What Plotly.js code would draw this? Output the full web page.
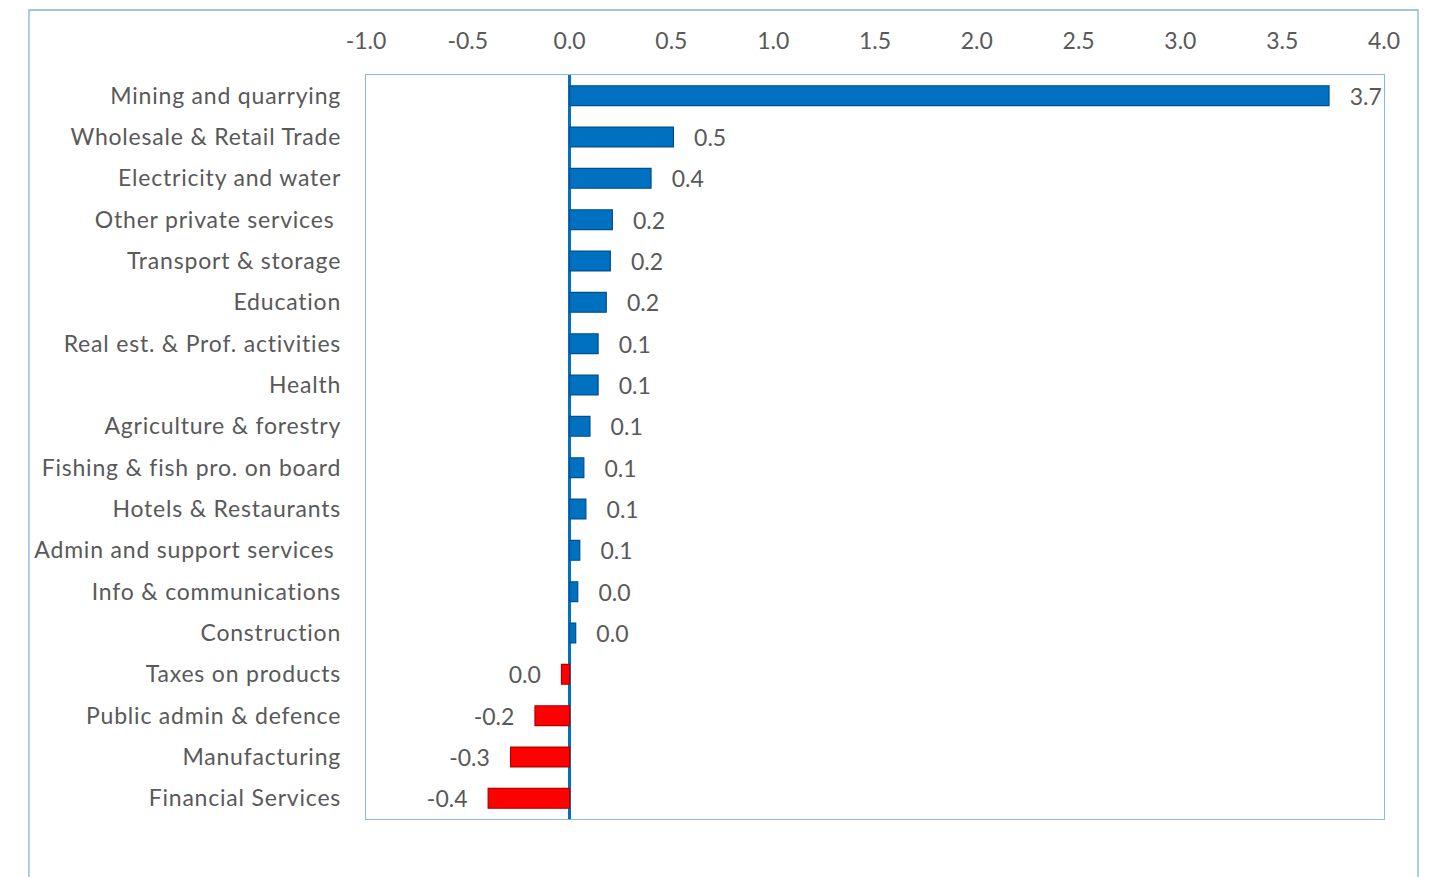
<!DOCTYPE html>
<html>
<head>
<meta charset="utf-8">
<script src="https://cdn.plot.ly/plotly-3.0.1.min.js"></script>
<style>
html,body{margin:0;padding:0;background:#fff;}
#chart{width:1430px;height:877px;}
#chart .ytick text{letter-spacing:0.8px;}
</style>
</head>
<body>
<div id="chart"></div>
<script>
var categories = [
  "Mining and quarrying",
  "Wholesale & Retail Trade",
  "Electricity and water",
  "Other private services\u00A0",
  "Transport & storage",
  "Education",
  "Real est. & Prof. activities",
  "Health",
  "Agriculture & forestry",
  "Fishing & fish pro. on board",
  "Hotels & Restaurants",
  "Admin and support services\u00A0",
  "Info & communications",
  "Construction",
  "Taxes on products",
  "Public admin & defence",
  "Manufacturing",
  "Financial Services"
];
var values = [3.73, 0.51, 0.40, 0.21, 0.20, 0.18, 0.14, 0.14, 0.10, 0.07, 0.08, 0.05, 0.04, 0.03, -0.04, -0.17, -0.29, -0.40];
var xTickVals = [-1.0, -0.5, 0.0, 0.5, 1.0, 1.5, 2.0, 2.5, 3.0, 3.5, 4.0];

var pad = "\u00A0\u00A0\u00A0";
var labels = values.map(function(v){
  var s = (Math.round(v*10)/10);
  if (s === 0) s = 0;
  s = s.toFixed(1);
  return v >= 0 ? pad + s : s + pad;
});
var colors = values.map(function(v){ return v >= 0 ? "#0070C0" : "#FF0000"; });
var lineColors = values.map(function(v){ return v >= 0 ? "#004F8A" : "#B00000"; });

var fontFam = "Lato, 'Open Sans', sans-serif";
var trace = {
  type: "bar",
  orientation: "h",
  y: categories,
  x: values,
  text: labels,
  textposition: "outside",
  constraintext: "none",
  cliponaxis: false,
  textfont: {family: fontFam, size: 23, color: "#595959"},
  marker: {color: colors, line: {color: lineColors, width: 1.2}},
  hoverinfo: "none"
};

var layout = {
  width: 1430,
  height: 877,
  margin: {l: 366, r: 46, t: 75, b: 58},
  paper_bgcolor: "#fff",
  plot_bgcolor: "#fff",
  showlegend: false,
  bargap: 0.52,
  font: {family: fontFam, size: 23, color: "#595959"},
  xaxis: {
    side: "top",
    range: [-1, 4],
    tickvals: xTickVals,
    ticktext: xTickVals.map(function(v){ return v.toFixed(1); }),
    showgrid: false,
    zeroline: true,
    zerolinecolor: "#0070C0",
    zerolinewidth: 2.2,
    showline: true,
    linecolor: "#8AB8E6",
    linewidth: 1.3,
    mirror: true,
    ticks: "",
    ticklabelstandoff: 16,
    tickfont: {family: fontFam, size: 23, color: "#595959"},
    fixedrange: true
  },
  yaxis: {
    autorange: "reversed",
    showgrid: false,
    showline: true,
    linecolor: "#8AB8E6",
    linewidth: 1.3,
    mirror: true,
    ticks: "",
    ticklabelstandoff: 19,
    tickfont: {family: fontFam, size: 23, color: "#595959"},
    fixedrange: true
  },
  shapes: [{
    type: "rect",
    xref: "paper", yref: "paper",
    x0: (29-366)/1018, x1: (1418-366)/1018,
    y0: -0.2, y1: (819-10)/744,
    line: {color: "#7FB2E5", width: 1.3},
    fillcolor: "rgba(0,0,0,0)",
    layer: "below"
  }]
};

Plotly.newPlot("chart", [trace], layout, {displayModeBar: false, staticPlot: true});
</script>
</body>
</html>
